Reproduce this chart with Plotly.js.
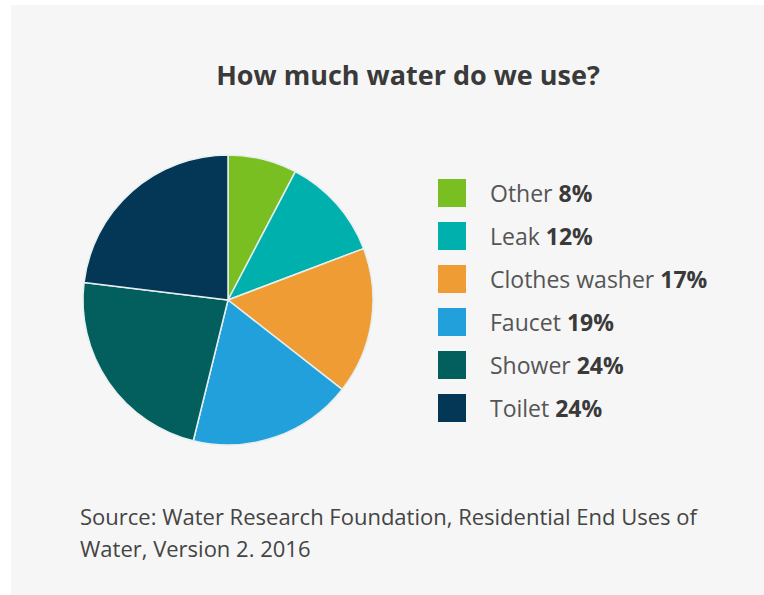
<!DOCTYPE html>
<html>
<head>
<meta charset="utf-8">
<script src="https://cdn.plot.ly/plotly-3.0.1.min.js"></script>
<style>html,body{margin:0;padding:0;background:#fff;}#chart{width:764px;height:595px;}</style>
</head>
<body>
<div id="chart"></div>
<script>
const labels = ['Other', 'Leak', 'Clothes washer', 'Faucet', 'Shower', 'Toilet'];
const percents = [8, 12, 17, 19, 24, 24];
const colors = ['#7abf21', '#00b0ad', '#ee9c33', '#22a0dc', '#035e5e', '#043656'];
const titleText = 'How much water do we use?';
const sourceLines = ['Source: Water Research Foundation, Residential End Uses of', 'Water, Version 2. 2016'];

const W = 764, H = 595;
const px = x => x / W;
const py = y => 1 - y / H;

const shapes = [{
  type: 'rect', xref: 'paper', yref: 'paper', layer: 'below',
  x0: px(11), x1: 1, y0: 0, y1: py(5),
  fillcolor: '#f6f6f6', line: {width: 0}
}];
const annotations = [];
const rowTop = 193, rowGap = 43, sq = 28;
labels.forEach((lab, i) => {
  const cy = rowTop + i * rowGap;
  shapes.push({
    type: 'rect', xref: 'paper', yref: 'paper',
    x0: px(438), x1: px(438 + sq), y0: py(cy + sq / 2), y1: py(cy - sq / 2),
    fillcolor: colors[i], line: {width: 0}
  });
  annotations.push({
    xref: 'paper', yref: 'paper', x: px(488), y: py(cy),
    xanchor: 'left', yanchor: 'middle', showarrow: false,
    text: lab + ' <span style="color:#3a3a3a"><b>' + percents[i] + '%</b></span>',
    font: {family: '"Open Sans", sans-serif', size: 23, color: '#555555'}
  });
});
sourceLines.forEach((t, i) => {
  annotations.push({
    xref: 'paper', yref: 'paper', x: px(78), y: py(516 + i * 32),
    xanchor: 'left', yanchor: 'middle', showarrow: false,
    text: t,
    font: {family: '"Open Sans", sans-serif', size: 22, color: '#444444'}
  });
});

const data = [{
  type: 'pie',
  labels: labels,
  values: percents,
  marker: {colors: colors, line: {color: '#e6efef', width: 1.5}},
  sort: false,
  direction: 'clockwise',
  rotation: 0,
  textinfo: 'none',
  hoverinfo: 'label+percent',
  showlegend: false,
  domain: {x: [px(83), px(373)], y: [py(445), py(155)]}
}];

const layout = {
  width: W, height: H,
  margin: {l: 0, r: 0, t: 0, b: 0},
  paper_bgcolor: '#ffffff',
  plot_bgcolor: 'rgba(0,0,0,0)',
  showlegend: false,
  title: {
    text: '<b>' + titleText + '</b>',
    x: px(408), xanchor: 'center', xref: 'paper',
    y: py(76), yanchor: 'middle', yref: 'paper',
    font: {family: '"Open Sans", sans-serif', size: 27, color: '#3a3a3a'}
  },
  shapes: shapes,
  annotations: annotations
};

Plotly.newPlot('chart', data, layout, {displayModeBar: false, staticPlot: true});
</script>
</body>
</html>
